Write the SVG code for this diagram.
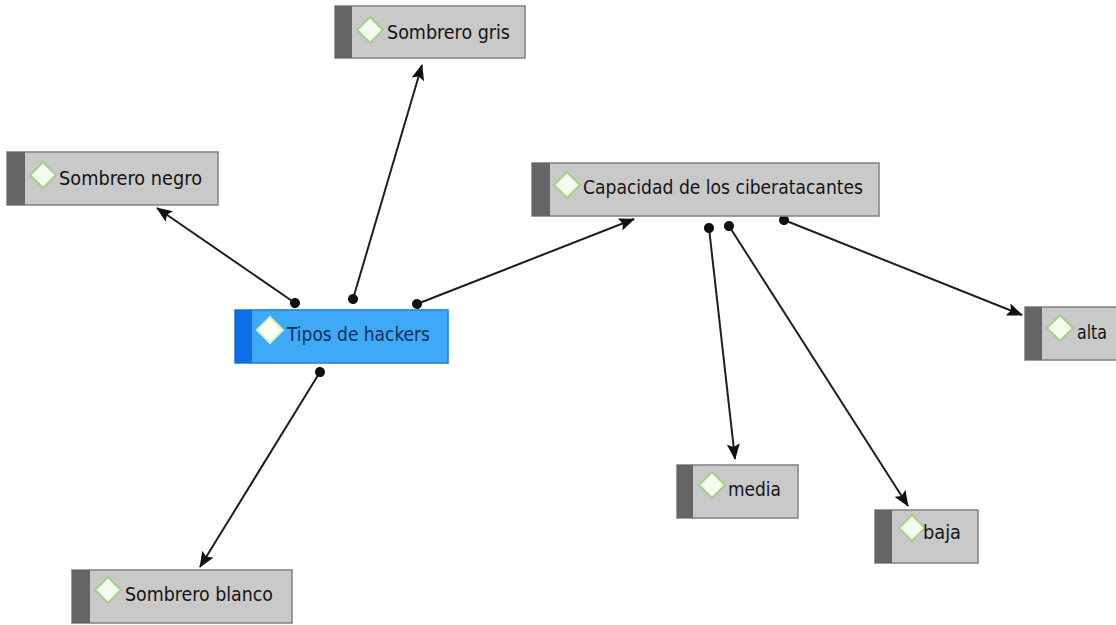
<svg xmlns="http://www.w3.org/2000/svg" width="1116" height="625" viewBox="0 0 1116 625">
  <defs>
    <style>
      .box { fill: #c9c9c9; stroke: #878787; stroke-width: 1.6; }
      .strip { fill: #656565; }
      .main .box { fill: #3ea9f6; stroke: #2a7fd8; }
      .main .strip { fill: #0c6fe8; }
      .icon { fill: #f2fdee; stroke: #a3cf86; stroke-width: 2; }
      .main .icon { fill: #fbfff4; stroke: #d9f0bd; }
      .label { font-family: "DejaVu Sans", "Liberation Sans", sans-serif; font-stretch: condensed; font-size: 19px; fill: #141414; }
      .main .label { fill: #10305c; }
      .link { stroke: #1e1e1e; stroke-width: 2; fill: none; marker-start: url(#dot); marker-end: url(#arrow); }
    </style>
    <marker id="arrow" viewBox="0 0 16 13" refX="15" refY="6.5" markerWidth="16" markerHeight="13" markerUnits="userSpaceOnUse" orient="auto">
      <path d="M0,0 L16,6.5 L0,13 L3,6.5 z" fill="#111"/>
    </marker>
    <marker id="dot" viewBox="0 0 12 12" refX="6" refY="6" markerWidth="11" markerHeight="11" markerUnits="userSpaceOnUse" orient="auto">
      <circle cx="6" cy="6" r="5.5" fill="#111"/>
    </marker>
  </defs>

  <rect width="1116" height="625" fill="#ffffff"/>

  <!-- connectors -->
  <g id="connectors">
    <line class="link" x1="353" y1="299" x2="422" y2="65"/>
    <line class="link" x1="295" y1="303" x2="157" y2="208"/>
    <line class="link" x1="417" y1="304" x2="634" y2="219"/>
    <line class="link" x1="320" y1="372" x2="200" y2="567"/>
    <line class="link" x1="709" y1="228" x2="735" y2="459"/>
    <line class="link" x1="729" y1="226" x2="908" y2="506"/>
    <line class="link" x1="784" y1="220" x2="1022" y2="315"/>
  </g>

  <!-- nodes -->
  <g id="node-gris">
    <rect class="box" x="335" y="6" width="190" height="52"/>
    <rect class="strip" x="335" y="6" width="17" height="52"/>
    <path class="icon" d="M370,17 L383,30 L370,43 L357,30 z"/>
    <text class="label" x="387" y="39" textLength="123" lengthAdjust="spacingAndGlyphs">Sombrero gris</text>
  </g>

  <g id="node-negro">
    <rect class="box" x="7" y="152" width="211" height="53"/>
    <rect class="strip" x="7" y="152" width="18" height="53"/>
    <path class="icon" d="M43,162 L56,175 L43,188 L30,175 z"/>
    <text class="label" x="59" y="185" textLength="143" lengthAdjust="spacingAndGlyphs">Sombrero negro</text>
  </g>

  <g id="node-tipos" class="main">
    <rect class="box" x="235" y="310" width="213" height="53"/>
    <rect class="strip" x="235" y="310" width="17" height="53"/>
    <path class="icon" d="M270,317 L283,330 L270,343 L257,330 z"/>
    <text class="label" x="287" y="341" textLength="143" lengthAdjust="spacingAndGlyphs">Tipos de hackers</text>
  </g>

  <g id="node-capacidad">
    <rect class="box" x="532" y="163" width="347" height="53"/>
    <rect class="strip" x="532" y="163" width="18" height="53"/>
    <path class="icon" d="M567,172 L580,185 L567,198 L554,185 z"/>
    <text class="label" x="583" y="194" textLength="280" lengthAdjust="spacingAndGlyphs">Capacidad de los ciberatacantes</text>
  </g>

  <g id="node-alta">
    <rect class="box" x="1025" y="307" width="95" height="53"/>
    <rect class="strip" x="1025" y="307" width="17" height="53"/>
    <path class="icon" d="M1060,315 L1073,328 L1060,341 L1047,328 z"/>
    <text class="label" x="1077" y="339" textLength="30" lengthAdjust="spacingAndGlyphs">alta</text>
  </g>

  <g id="node-media">
    <rect class="box" x="677" y="465" width="121" height="53"/>
    <rect class="strip" x="677" y="465" width="16" height="53"/>
    <path class="icon" d="M712,472 L725,485 L712,498 L699,485 z"/>
    <text class="label" x="728" y="496" textLength="53" lengthAdjust="spacingAndGlyphs">media</text>
  </g>

  <g id="node-baja">
    <rect class="box" x="875" y="510" width="103" height="53"/>
    <rect class="strip" x="875" y="510" width="17" height="53"/>
    <path class="icon" d="M912,515 L925,528 L912,541 L899,528 z"/>
    <text class="label" x="923" y="539" textLength="38" lengthAdjust="spacingAndGlyphs">baja</text>
  </g>

  <g id="node-blanco">
    <rect class="box" x="72" y="570" width="220" height="53"/>
    <rect class="strip" x="72" y="570" width="18" height="53"/>
    <path class="icon" d="M108,577 L121,590 L108,603 L95,590 z"/>
    <text class="label" x="125" y="601" textLength="148" lengthAdjust="spacingAndGlyphs">Sombrero blanco</text>
  </g>
</svg>
